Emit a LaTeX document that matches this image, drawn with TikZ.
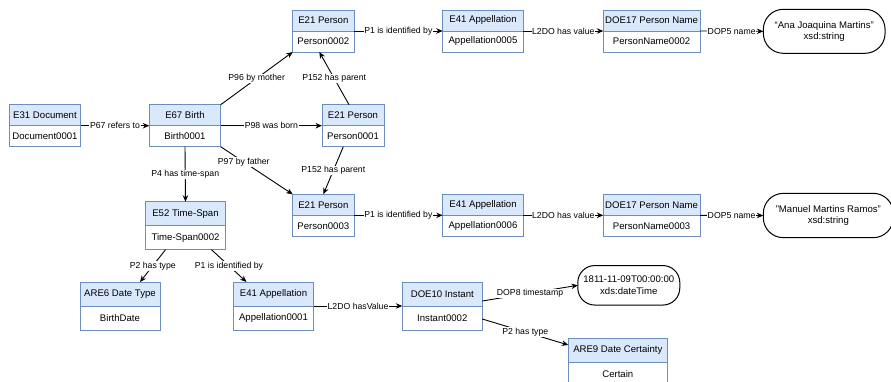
\documentclass[tikz,border=0pt]{standalone}
\usepackage{fontspec}
\setmainfont{Liberation Sans}
\usetikzlibrary{arrows.meta}
\definecolor{hdrfill}{HTML}{DAE8FC}
\definecolor{hdrline}{HTML}{6C8EBF}
\tikzset{
 hdr/.style={draw=hdrline, fill=hdrfill, line width=1pt, inner sep=1pt, outer sep=0pt, font=\fontsize{9.6}{11.5}\selectfont},
 bdy/.style={hdr, fill=white},
 val/.style={draw=black, fill=white, line width=1pt, rounded corners=#1, inner sep=1pt, outer sep=0pt, align=center, font=\fontsize{9.6}{11.5}\selectfont},
 val/.default=20pt,
 conn/.style={draw=black, line width=0.9pt, -{Stealth[length=6.5pt,width=5.5pt]}},
 lbl/.style={fill=white, inner sep=0.6pt, font=\fontsize{8.7}{10}\selectfont},
}
\newcommand\mkent[8]{%
  \node[hdr, minimum width=#4pt, minimum height=#5pt, anchor=north west] (#1h) at (#2,#3) {#7};
  \node[bdy, minimum width=#4pt, minimum height=#6pt, anchor=north] (#1) at (#1h.south) {#8};
}
\begin{document}
\begin{tikzpicture}[x=1pt,y=-1pt]
\useasboundingbox[fill=white] (0,0) rectangle (891,381);
% entities
\mkent{doc}{9.3}{104.7}{71.4}{21}{21}{E31 Document}{Document0001}
\mkent{birth}{149.3}{104.7}{71.4}{21}{21}{E67 Birth}{Birth0001}
\mkent{ptwo}{292.7}{10}{61.3}{21}{21}{E21 Person}{Person0002}
\mkent{pone}{322}{104.7}{62}{21}{21}{E21 Person}{Person0001}
\mkent{pthree}{292.7}{194.3}{61.3}{21}{21}{E21 Person}{Person0003}
\mkent{appfive}{442.7}{10}{80.6}{21}{21}{E41 Appellation}{Appellation0005}
\mkent{pntwo}{603.3}{10}{96.7}{21}{21}{DOE17 Person Name}{PersonName0002}
\mkent{appsix}{442.7}{194.3}{80.6}{21}{21}{E41 Appellation}{Appellation0006}
\mkent{pnthree}{603.3}{194.3}{96.7}{21}{21}{DOE17 Person Name}{PersonName0003}
\mkent{ts}{145.3}{201.7}{80.4}{24}{24}{E52 Time-Span}{Time-Span0002}
\mkent{dt}{80}{282}{80}{24}{24}{ARE6 Date Type}{BirthDate}
\mkent{appone}{233.3}{282}{80.4}{24}{24}{E41 Appellation}{Appellation0001}
\mkent{inst}{402.3}{282}{80}{24}{24}{DOE10 Instant}{Instant0002}
\mkent{cert}{568.3}{338}{99}{24}{24}{ARE9 Date Certainty}{Certain}
% values
\node[val, minimum width=121.7pt, minimum height=44pt] (ana) at (824.2,31.3) {“Ana Joaquina Martins"\\xsd:string};
\node[val, minimum width=130pt, minimum height=44.3pt] (manuel) at (828.3,215.5) {"Manuel Martins Ramos"\\xsd:string};
\node[val=17pt, minimum width=102pt, minimum height=39.5pt] (stamp) at (628.8,285.3) {1811-11-09T00:00:00\\xds:dateTime};
% connectors
\draw[conn] (doch.south east) -- node[lbl]{P67 refers to} (birthh.south west);
\draw[conn] (birthh.north east) -- node[lbl]{P96 by mother} (ptwo.south west);
\draw[conn] (birthh.south east) -- node[lbl]{P98 was born} (poneh.south west);
\draw[conn] (birth.south east) -- node[lbl,pos=0.32]{P97 by father} (pthreeh.north west);
\draw[conn] (birth.south) -- node[lbl]{P4 has time-span} (tsh.north);
\draw[conn] ([xshift=-4pt]poneh.north) -- node[lbl]{P152 has parent} ([xshift=-4pt]ptwo.south);
\draw[conn] ([xshift=-9.7pt]pone.south) -- node[lbl]{P152 has parent} (pthreeh.north);
\draw[conn] (ptwoh.south east) -- node[lbl]{P1 is identified by} (appfiveh.south west);
\draw[conn] (appfiveh.south east) -- node[lbl]{L2DO has value} (pntwoh.south west);
\draw[conn] (pntwoh.south east) -- node[lbl]{DOP5 name} (ana.west);
\draw[conn] (pthreeh.south east) -- node[lbl]{P1 is identified by} (appsixh.south west);
\draw[conn] (appsixh.south east) -- node[lbl]{L2DO has value} (pnthreeh.south west);
\draw[conn] (pnthreeh.south east) -- node[lbl]{DOP5 name} (manuel.west);
\draw[conn] ([xshift=-20pt]ts.south) -- node[lbl]{P2 has type} ([xshift=20pt]dth.north);
\draw[conn] ([xshift=26pt]ts.south) -- node[lbl]{P1 is identified by} ([xshift=-27pt]apponeh.north);
\draw[conn] (apponeh.south east) -- node[lbl]{L2DO hasValue} (insth.south west);
\draw[conn] ([yshift=-7pt]insth.east) -- node[lbl]{DOP8 timestamp} (stamp.west);
\draw[conn] ([yshift=-1pt]inst.east) -- node[lbl]{P2 has type} ([yshift=5pt]certh.west);
\end{tikzpicture}
\end{document}
